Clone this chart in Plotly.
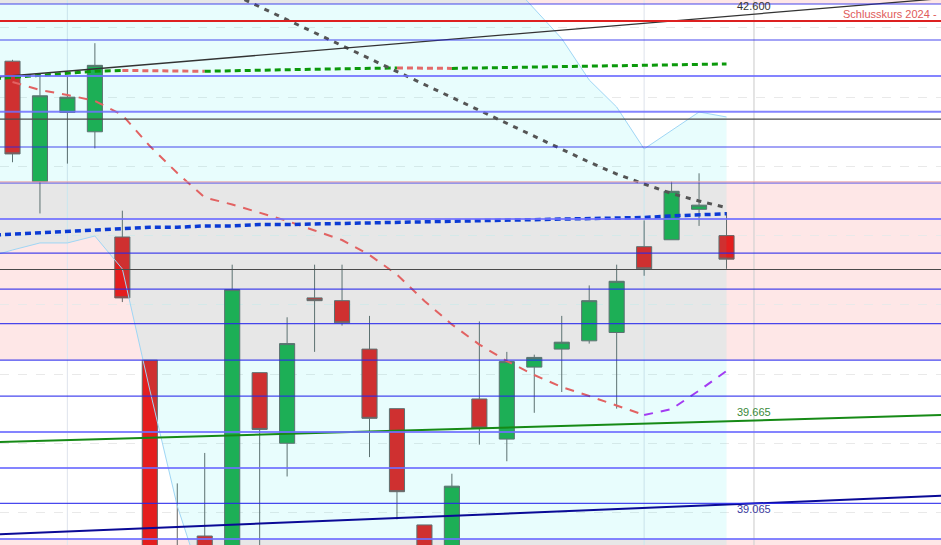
import plotly.graph_objects as go

# ---------------- data ----------------
candle_idx = list(range(27))
opens  = [42.26, 41.39, 41.89, 41.75, 40.99, 40.10, 38.72, 38.83, 38.60, 40.01, 39.50, 40.55, 40.53, 40.18,
          39.75, 38.91, 38.60, 39.82, 39.53, 40.05, 40.18, 40.24, 40.30, 40.92, 40.97, 41.19, 41.00]
highs  = [42.27, 42.15, 42.15, 42.39, 41.18, 40.10, 39.21, 39.43, 40.79, 40.01, 40.41, 40.79, 40.79, 40.42,
          39.75, 38.91, 39.28, 40.38, 40.16, 40.14, 40.42, 40.64, 40.79, 41.11, 41.39, 41.45, 41.17]
lows   = [41.53, 41.16, 41.52, 41.63, 40.52, 38.40, 38.30, 38.30, 38.50, 38.70, 39.26, 40.16, 40.35, 39.40,
          38.95, 38.45, 38.50, 39.49, 39.37, 39.72, 39.87, 40.22, 39.75, 40.71, 40.97, 41.07, 40.76]
closes = [41.59, 42.01, 42.00, 42.23, 40.55, 38.55, 38.45, 38.40, 40.61, 39.60, 40.22, 40.53, 40.37, 39.68,
          39.15, 38.55, 39.19, 39.61, 40.09, 40.12, 40.23, 40.53, 40.67, 40.76, 41.32, 41.22, 40.83]

# moving averages (index -1 .. 26)
ma_idx = list(range(-1, 27))
ma_blue = [41.00, 41.01, 41.02, 41.03, 41.04, 41.05, 41.06, 41.06, 41.07, 41.07, 41.08, 41.08, 41.084, 41.088,
           41.091, 41.098, 41.102, 41.106, 41.109, 41.113, 41.116, 41.119, 41.120, 41.124, 41.131, 41.142,
           41.153, 41.158]
ma_long = [42.128, 42.142, 42.160, 42.175, 42.188, 42.193, 42.191, 42.189, 42.187, 42.192, 42.195, 42.198,
           42.202, 42.205, 42.208, 42.211, 42.210, 42.208, 42.211, 42.214, 42.217, 42.220, 42.223, 42.226,
           42.229, 42.233, 42.236, 42.240]
# short MA (index 0 .. 26)
ma_short_idx = list(range(0, 27))
ma_short = [42.110, 42.052, 42.016, 41.973, 41.871, 41.647, 41.452, 41.275, 41.225, 41.163, 41.106, 41.037,
            40.968, 40.860, 40.719, 40.528, 40.358, 40.213, 40.094, 39.993, 39.906, 39.841, 39.773, 39.704,
            39.747, 39.881, 40.022]
# mid MA (index 7 .. 26)
ma_mid_idx = list(range(7, 27))
ma_mid = [42.840, 42.746, 42.652, 42.559, 42.465, 42.372, 42.279, 42.185, 42.092, 41.999, 41.905, 41.812,
          41.718, 41.624, 41.531, 41.445, 41.373, 41.304, 41.250, 41.202]

# bands (index -1 .. 26)
band_upper = [43.35, 43.39, 43.42, 43.42, 43.39, 43.35, 43.42, 43.57, 43.71, 43.79, 43.82, 43.86, 43.86, 43.82,
              43.75, 43.64, 43.57, 43.36, 43.10, 42.854, 42.637, 42.423, 42.124, 41.929, 41.626, 41.759,
              41.893, 41.857]
band_lower = [40.838, 40.896, 40.947, 40.947, 40.997, 40.759, 39.885, 39.047, 38.44, 38.08, 37.79, 37.57, 37.43,
              37.36, 37.32, 37.32, 37.32, 37.36, 37.43, 37.50, 37.65, 37.72, 37.79, 37.86, 37.97, 38.08, 38.15,
              38.22]

# horizontal levels
blue_levels = [42.673, 42.413, 42.153, 41.895, 41.640, 41.380, 41.120, 40.874, 40.614, 40.364, 40.101,
               39.841, 39.581, 39.321, 39.065, 38.808]
light_blue_levels = [42.153, 41.895, 41.120, 39.581, 39.321, 38.808]
black_levels = [41.842, 40.755]
close_2024 = 42.551
close_2024_label = "Schlusskurs 2024 -"
pink_zones = [(40.101, 41.380), (42.673, 43.5), (38.0, 38.808)]
month_lines = [2, 23]
today_line = 27

# trendlines: (index, price) anchors
trend_black = [(0, 42.155), (27, 42.600)]
trend_green = [(0, 39.511), (27, 39.665)]
trend_navy = [(0, 38.847), (27, 39.065)]
trend_labels = ["42.600", "39.665", "39.065"]

X_RANGE = [-0.455, 33.81]
Y_RANGE = [38.765, 42.702]

# ---------------- figure ----------------
fig = go.Figure()

# band fill
fig.add_trace(go.Scatter(x=ma_idx, y=band_upper, mode="lines",
                         line=dict(color="#9fd6f5", width=1), hoverinfo="skip", showlegend=False))
fig.add_trace(go.Scatter(x=ma_idx, y=band_lower, mode="lines", fill="tonexty",
                         fillcolor="rgba(0,235,235,0.09)",
                         line=dict(color="#9fd6f5", width=1), hoverinfo="skip", showlegend=False))

# candles
fig.add_trace(go.Candlestick(
    x=candle_idx, open=opens, high=highs, low=lows, close=closes,
    increasing=dict(fillcolor="#20aa48", line=dict(color="#666666", width=1)),
    decreasing=dict(fillcolor="#e41e1e", line=dict(color="#666666", width=1)),
    whiskerwidth=0, showlegend=False, hoverinfo="skip"))


def add_colored(xs, ys, up_color, down_color, width, dash):
    # split into runs of rising / falling segments
    runs = []
    for k in range(len(xs) - 1):
        rising = ys[k + 1] >= ys[k]
        if runs and runs[-1][0] == rising:
            runs[-1][1].append(k + 1)
        else:
            runs.append([rising, [k, k + 1]])
    for rising, ks in runs:
        fig.add_trace(go.Scatter(
            x=[xs[k] for k in ks], y=[ys[k] for k in ks], mode="lines",
            line=dict(color=up_color if rising else down_color, width=width, dash=dash),
            hoverinfo="skip", showlegend=False))


add_colored(ma_idx, ma_long, "#0b990b", "#e36a6a", 3, "6px,4px")
add_colored(ma_short_idx, ma_short, "#a33cf2", "#e26262", 2, "9px,8px")
fig.add_trace(go.Scatter(x=ma_mid_idx, y=ma_mid, mode="lines",
                         line=dict(color="#555555", width=3, dash="5px,6px"),
                         hoverinfo="skip", showlegend=False))
fig.add_trace(go.Scatter(x=ma_idx, y=ma_blue, mode="lines",
                         line=dict(color="#0b3ad4", width=3.5, dash="6px,4px"),
                         hoverinfo="skip", showlegend=False))

shapes = []
for lo, hi in pink_zones:
    shapes.append(dict(type="rect", xref="paper", yref="y", x0=0, x1=1, y0=lo, y1=hi,
                       fillcolor="rgba(245,0,0,0.095)", line=dict(width=0), layer="below"))
for mx in month_lines:
    shapes.append(dict(type="line", xref="x", yref="paper", x0=mx, x1=mx, y0=0, y1=1,
                       line=dict(color="#e3e7ef", width=1.2), layer="below"))
shapes.append(dict(type="line", xref="x", yref="paper", x0=today_line, x1=today_line, y0=0, y1=1,
                   line=dict(color="#d2d2d2", width=1.2), layer="below"))

for lv in blue_levels:
    light = lv in light_blue_levels
    shapes.append(dict(type="line", xref="paper", yref="y", x0=0, x1=1, y0=lv, y1=lv,
                       line=dict(color="rgba(110,110,255,0.85)" if light else "rgba(40,40,235,0.85)",
                                 width=2 if light else 1.2), layer="above"))
shapes.append(dict(type="line", xref="paper", yref="y", x0=0, x1=1, y0=pink_zones[0][1] + 0.008,
                   y1=pink_zones[0][1] + 0.008, line=dict(color="#eaa0a0", width=1), layer="above"))
for lv in black_levels:
    shapes.append(dict(type="line", xref="paper", yref="y", x0=0, x1=1, y0=lv, y1=lv,
                       line=dict(color="#4a4a4a", width=1.2), layer="above"))
shapes.append(dict(type="line", xref="paper", yref="y", x0=0, x1=1, y0=close_2024, y1=close_2024,
                   line=dict(color="#dd2020", width=2), layer="above"))


def trend_pts(anchors):
    (xa, ya), (xb, yb) = anchors
    s = (yb - ya) / (xb - xa)
    xs = [X_RANGE[0] - 1, X_RANGE[1] + 1]
    return xs, [ya + s * (v - xa) for v in xs]


for anchors, col in [(trend_black, "#333333"), (trend_green, "#168a16"), (trend_navy, "#0a0a96")]:
    xs, ys = trend_pts(anchors)
    fig.add_trace(go.Scatter(x=xs, y=ys, mode="lines",
                             line=dict(color=col, width=1.3 if col == "#333333" else 2),
                             hoverinfo="skip", showlegend=False))

font = "Liberation Sans, Arial, sans-serif"
annotations = [
    dict(x=trend_black[1][0], y=trend_black[1][1], text=trend_labels[0], showarrow=False,
         yshift=8, font=dict(family=font, size=11, color="#333333")),
    dict(x=trend_green[1][0], y=trend_green[1][1], text=trend_labels[1], showarrow=False,
         yshift=8, font=dict(family=font, size=11, color="#3a8a3a")),
    dict(x=trend_navy[1][0], y=trend_navy[1][1], text=trend_labels[2], showarrow=False,
         yshift=-6, font=dict(family=font, size=11, color="#3a3aa0")),
    dict(x=1, xref="paper", xanchor="right", y=close_2024, text=close_2024_label, showarrow=False,
         xshift=-2, yshift=7, font=dict(family=font, size=11, color="#e05a5a")),
]

fig.update_layout(
    width=941, height=545,
    margin=dict(l=0, r=0, t=0, b=0),
    paper_bgcolor="white", plot_bgcolor="white",
    boxgap=0.45, boxgroupgap=0,
    shapes=shapes, annotations=annotations,
    showlegend=False,
    xaxis=dict(range=X_RANGE, showgrid=False, zeroline=False, showticklabels=False,
               rangeslider=dict(visible=False), fixedrange=True),
    yaxis=dict(range=Y_RANGE, showgrid=True, gridcolor="#e9e9e9", griddash="dash", dtick=0.5,
               tick0=0, zeroline=False, showticklabels=False, fixedrange=True),
)

fig.write_html("out.html", config={"displayModeBar": False},
               post_script="document.body.style.margin='0';document.body.style.overflow='hidden';")
